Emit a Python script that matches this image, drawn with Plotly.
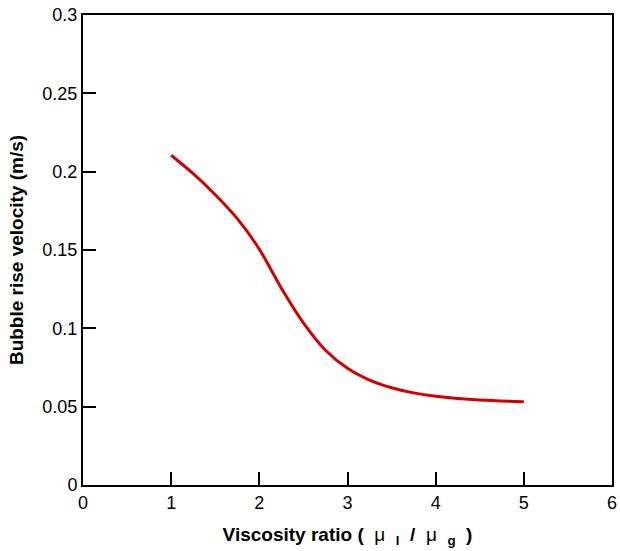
import plotly.graph_objects as go

viscosity_ratio = [1.0, 1.25, 1.5, 1.75, 2.0, 2.25, 2.5, 2.75, 3.0, 3.25, 3.5, 3.75, 4.0, 4.5, 5.0]
rise_velocity = [0.2105, 0.1987, 0.1853, 0.1700, 0.1505, 0.1256, 0.1035, 0.0860, 0.0745, 0.0670, 0.0621, 0.0588, 0.0567, 0.0542, 0.0532]

x_ticks = [0, 1, 2, 3, 4, 5, 6]
y_ticks = [0, 0.05, 0.1, 0.15, 0.2, 0.25, 0.3]
y_tick_labels = ["0", "0.05", "0.1", "0.15", "0.2", "0.25", "0.3"]

fig = go.Figure()
fig.add_trace(go.Scatter(
    x=viscosity_ratio, y=rise_velocity, mode="lines",
    line=dict(color="#d40000", width=3, shape="spline", smoothing=0.9),
    showlegend=False, hoverinfo="skip",
))

axis_common = dict(
    showgrid=False, zeroline=False, showline=True, linecolor="black", linewidth=2,
    mirror=True, ticks="inside", ticklen=13, tickwidth=2, tickcolor="black",
    tickfont=dict(family="Liberation Sans, Arial", size=18, color="black"),
    ticklabeloverflow="allow",
)

title_font = dict(family="Liberation Sans, Arial", size=19, color="black", weight="bold")

fig.update_layout(
    width=620, height=551,
    margin=dict(l=83, r=3, t=15, b=66),
    paper_bgcolor="white", plot_bgcolor="white",
    xaxis=dict(
        range=[0, 6], tickvals=x_ticks, ticktext=[str(v) for v in x_ticks],
        title=dict(
            text="Viscosity ratio (  <span style=\"font-weight:normal\">μ</span>  <sub>l</sub>  /  <span style=\"font-weight:normal\">μ</span>  <sub>g</sub>  )",
            font=title_font,
            standoff=16,
        ),
        **axis_common,
    ),
    yaxis=dict(
        range=[0, 0.3], tickvals=y_ticks, ticktext=y_tick_labels,
        title=dict(
            text="Bubble rise velocity (m/s)",
            font=title_font,
            standoff=14,
        ),
        **axis_common,
    ),
)

fig.write_html("out.html")
